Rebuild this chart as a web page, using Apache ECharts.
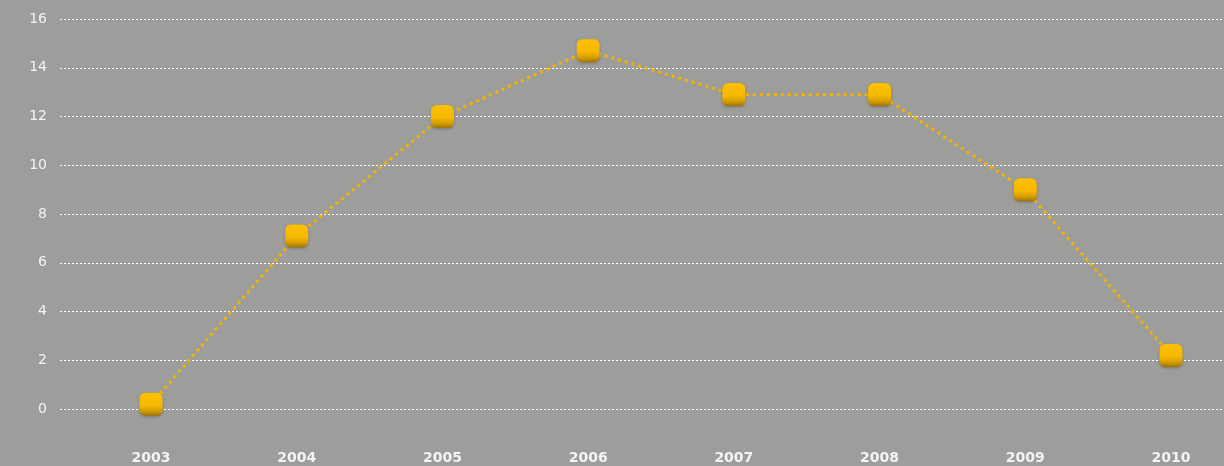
<!DOCTYPE html>
<html>
<head>
<meta charset="utf-8">
<script src="https://cdn.jsdelivr.net/npm/echarts@6/dist/echarts.min.js"></script>
<style>
html,body{margin:0;padding:0;background:#9d9d9b;}
#c{width:1224px;height:466px;}
</style>
</head>
<body>
<div id="c"></div>
<script>
const categories = ['2003','2004','2005','2006','2007','2008','2009','2010'];
const values = [0.2, 7.1, 12.0, 14.7, 12.9, 12.9, 9.0, 2.2];
const yTicks = [0, 2, 4, 6, 8, 10, 12, 14, 16];

const xNums = categories.map(Number);
const chart = echarts.init(document.getElementById('c'));
chart.setOption({
  backgroundColor: '#9d9d9b',
  animation: false,
  grid: { left: 60, right: 0, top: 19, bottom: 18 },
  xAxis: {
    type: 'value',
    min: 2002.3755,
    max: 2010.3637,
    axisLine: { show: false },
    axisTick: { show: false, customValues: xNums },
    splitLine: { show: false },
    axisLabel: {
      customValues: xNums,
      formatter: v => String(v),
      color: '#f4f4f4',
      fontFamily: 'DejaVu Sans',
      fontSize: 14,
      fontWeight: 'bold',
      margin: 3
    }
  },
  yAxis: {
    type: 'value',
    min: -1.6,
    max: 16,
    axisLine: { show: false },
    axisTick: { show: false, customValues: yTicks },
    axisLabel: {
      customValues: yTicks,
      color: '#f4f4f4',
      fontFamily: 'DejaVu Sans',
      fontSize: 14,
      margin: 13
    },
    splitLine: {
      show: true,
      lineStyle: { color: '#ffffff', width: 1, type: [2, 2] }
    }
  },
  series: [{
    type: 'line',
    data: xNums.map((x, i) => [x, values[i]]),
    symbol: 'roundRect',
    symbolSize: 23,
    lineStyle: { color: '#f2b400', width: 3, type: [3, 4], cap: 'butt' },
    itemStyle: {
      color: new echarts.graphic.LinearGradient(0, 0, 0, 1, [
        { offset: 0, color: '#fdc000' },
        { offset: 0.55, color: '#f7b800' },
        { offset: 0.8, color: '#d49d00' },
        { offset: 1, color: '#9e7400' }
      ]),
      shadowColor: 'rgba(0,0,0,0.25)',
      shadowBlur: 3,
      shadowOffsetY: 1
    },
    z: 3
  }]
});
</script>
</body>
</html>
